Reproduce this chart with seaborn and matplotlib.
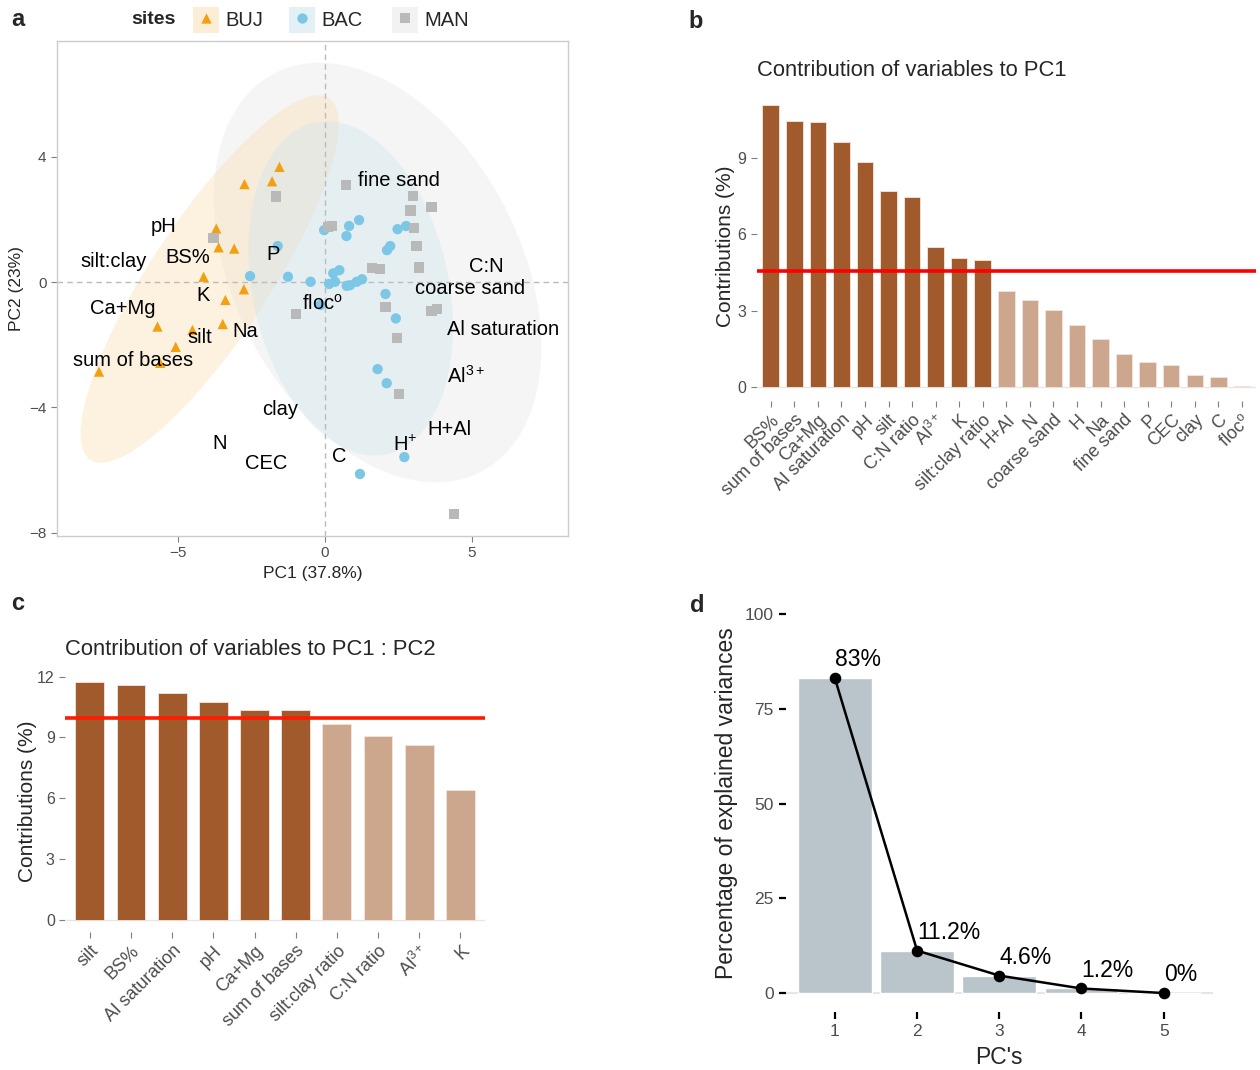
import numpy as np
import pandas as pd
import matplotlib
matplotlib.use("Agg")
import matplotlib.pyplot as plt
import seaborn as sns
from matplotlib.patches import Ellipse, Rectangle

sns.set_theme(style="white")
plt.rcParams['font.family'] = ['Liberation Sans', 'DejaVu Sans']
plt.rcParams['mathtext.fontset'] = 'custom'
plt.rcParams['mathtext.rm'] = 'Liberation Sans'
plt.rcParams['mathtext.it'] = 'Liberation Sans:italic'
plt.rcParams['mathtext.bf'] = 'Liberation Sans:bold'

# ---------------- PCA scores by site ----------------
buj_pc1 = [-1.55, -2.74, -1.80, -3.70, -3.62, -3.09, -4.13, -2.76, -3.39, -3.48,
           -5.70, -4.51, -5.08, -5.61, -7.69]
buj_pc2 = [3.68, 3.13, 3.22, 1.71, 1.11, 1.07, 0.17, -0.23, -0.57, -1.34,
           -1.42, -1.53, -2.07, -2.58, -2.86]

bac_pc1 = [-1.61, -2.55, -1.26, -0.49, -0.03, 0.82, 1.16, 0.73, 0.28, 0.49,
           0.14, 0.34, -0.15, 0.74, 0.85, 1.08, 1.26, 2.06, 2.11, 2.22,
           2.47, 2.76, 2.41, 1.79, 2.10, 2.70, 1.19]
bac_pc2 = [1.15, 0.19, 0.17, 0.01, 1.66, 1.79, 1.98, 1.47, 0.28, 0.38,
           -0.06, 0.01, -0.73, -0.12, -0.10, 0.01, 0.09, -0.38, 1.02, 1.15,
           1.69, 1.79, -1.16, -2.78, -3.23, -5.59, -6.13]

man_pc1 = [0.71, -1.66, -3.79, 3.00, 2.91, 3.62, 0.11, 0.23, 3.03, 3.11,
           3.21, 1.60, 1.88, -0.98, 2.06, 3.62, 3.81, 2.46, 2.52, 4.39]
man_pc2 = [3.09, 2.73, 1.41, 2.75, 2.29, 2.39, 1.77, 1.80, 1.73, 1.15,
           0.47, 0.46, 0.41, -1.01, -0.79, -0.92, -0.87, -1.79, -3.58, -7.41]

# variable names placed in the score space
var_names = ["fine sand", "pH", "silt:clay", "BS%", "P", "C:N", "coarse sand", "K",
             r"floc$^{\mathrm{o}}$", "Ca+Mg", "silt", "Na", "Al saturation", "sum of bases",
             r"Al$^{\mathrm{3+}}$", "clay", "H+Al", "N", r"H$^{+}$", "CEC", "C"]
var_pc1 = [2.52, -5.51, -7.18, -4.66, -1.77, 5.48, 4.93, -4.15, -0.10, -6.87,
           -4.25, -2.72, 6.05, -6.53, 4.80, -1.53, 4.25, -3.57, 2.72, -2.01, 0.48]
var_pc2 = [3.26, 1.79, 0.67, 0.77, 0.89, 0.51, -0.22, -0.42, -0.70, -0.83,
           -1.76, -1.57, -1.50, -2.49, -3.00, -4.06, -4.70, -5.14, -5.21, -5.78, -5.56]

# ---------------- contributions to PC1 ----------------
pc1_vars = ["BS%", "sum of bases", "Ca+Mg", "Al saturation", "pH", "silt", "C:N ratio",
            r"Al$^{3+}$", "K", "silt:clay ratio", "H+Al", "N", "coarse sand", "H", "Na",
            "fine sand", "P", "CEC", "clay", "C", r"floc$^{\mathrm{o}}$"]
pc1_contrib = [11.08, 10.44, 10.43, 9.64, 8.86, 7.72, 7.48, 5.50, 5.06, 4.97,
               3.79, 3.42, 3.01, 2.42, 1.87, 1.30, 0.98, 0.86, 0.47, 0.39, 0.02]
pc1_cutoff = 4.55

# ---------------- contributions to PC1 : PC2 ----------------
pc12_vars = ["silt", "BS%", "Al saturation", "pH", "Ca+Mg", "sum of bases",
             "silt:clay ratio", "C:N ratio", r"Al$^{3+}$", "K"]
pc12_contrib = [11.74, 11.61, 11.18, 10.75, 10.36, 10.34, 9.67, 9.07, 8.64, 6.39]
pc12_cutoff = 9.98

# ---------------- scree ----------------
pcs = ["1", "2", "3", "4", "5"]
explained = [83.0, 11.2, 4.6, 1.2, 0.0]

# ---------------- styling ----------------
site_colors = {"BUJ": "#F2A010", "BAC": "#7CC6E6", "MAN": "#B9B9B9"}
site_fill = {"BUJ": "#FBDDB0", "BAC": "#C9E5EF", "MAN": "#E6E6E6"}
site_alpha = {"BUJ": 0.38, "BAC": 0.35, "MAN": 0.38}
site_markers = {"BUJ": "^", "BAC": "o", "MAN": "s"}
dark_bar = "#A05A2C"
light_bar = "#CCA68D"
tick_grey = "#4D4D4D"

W, H = 1260, 1070
fig = plt.figure(figsize=(W / 100, H / 100), dpi=100)


def frac(l, t, r, b):
    return [l / W, 1 - b / H, (r - l) / W, (b - t) / H]


def conf_ellipse(ax, x, y, face, alpha, level=0.95):
    pts = np.column_stack([x, y])
    n = len(pts)
    mu = pts.mean(axis=0)
    cov = np.cov(pts.T)
    vals, vecs = np.linalg.eigh(cov)
    # F(2, n-1) quantile has a closed form
    m = n - 1
    qf = (m / 2) * ((1 - level) ** (-2 / m) - 1)
    r = np.sqrt(2 * qf)
    w, h = 2 * r * np.sqrt(vals[1]), 2 * r * np.sqrt(vals[0])
    ang = np.degrees(np.arctan2(vecs[1, 1], vecs[0, 1]))
    ax.add_patch(Ellipse(mu, w, h, angle=ang, facecolor=face, alpha=alpha,
                         edgecolor="none", zorder=1))


# ================= panel a : biplot =================
axa = fig.add_axes(frac(57, 41, 568, 536))
scores = pd.DataFrame({
    "PC1": buj_pc1 + bac_pc1 + man_pc1,
    "PC2": buj_pc2 + bac_pc2 + man_pc2,
    "site": ["BUJ"] * len(buj_pc1) + ["BAC"] * len(bac_pc1) + ["MAN"] * len(man_pc1),
})
conf_ellipse(axa, man_pc1, man_pc2, site_fill["MAN"], site_alpha["MAN"])
conf_ellipse(axa, buj_pc1, buj_pc2, site_fill["BUJ"], site_alpha["BUJ"])
conf_ellipse(axa, bac_pc1, bac_pc2, site_fill["BAC"], site_alpha["BAC"])
axa.axhline(0, color="#BBBBBB", ls=(0, (4, 3)), lw=1, zorder=2)
axa.axvline(0, color="#BBBBBB", ls=(0, (4, 3)), lw=1, zorder=2)
sns.scatterplot(data=scores, x="PC1", y="PC2", hue="site", style="site",
                palette=site_colors, markers=site_markers, s=55, linewidth=0,
                legend=False, ax=axa, zorder=3)
for nm, vx, vy in zip(var_names, var_pc1, var_pc2):
    axa.text(vx, vy, nm, ha="center", va="center", fontsize=14.5, color="black", zorder=4)
axa.set_xlim(-9.12, 8.27)
axa.set_ylim(-8.11, 7.70)
axa.set_xticks([-5, 0, 5])
axa.set_xticklabels(["\u22125", "0", "5"])
axa.set_yticks([-8, -4, 0, 4])
axa.set_yticklabels(["\u22128", "\u22124", "0", "4"])
axa.set_xlabel("PC1 (37.8%)", fontsize=12.5, labelpad=4)
axa.set_ylabel("PC2 (23%)", fontsize=12.5, labelpad=4)
axa.tick_params(axis="both", labelsize=11, colors="#7F7F7F", length=4, width=0.8,
                left=True, bottom=True)
for t in axa.get_xticklabels() + axa.get_yticklabels():
    t.set_color(tick_grey)
for sp in axa.spines.values():
    sp.set_color("#CCCCCC")
    sp.set_linewidth(1)

# legend strip
axl = fig.add_axes([0, 1 - 42 / H, 1, 42 / H])
axl.set_xlim(0, W)
axl.set_ylim(42, 0)
axl.axis("off")
axl.text(131, 20, "sites", fontsize=14, fontweight="bold", va="center", ha="left")
for site, kx, tx in [("BUJ", 193, 225), ("BAC", 289, 321), ("MAN", 392, 424)]:
    axl.add_patch(Rectangle((kx, 7), 26, 26, facecolor=site_fill[site], alpha=0.5,
                            edgecolor="none"))
    axl.scatter([kx + 13], [18], marker=site_markers[site], s=55,
                color=site_colors[site], linewidth=0)
    axl.text(tx, 21, site, fontsize=14.5, va="center", ha="left")


# ================= contribution bar helper =================
def contrib_bars(ax, names, values, cutoff, title, label_size, ylabelpad):
    df = pd.DataFrame({"var": names, "contrib": values})
    df["grp"] = np.where(df["contrib"] > cutoff, "hi", "lo")
    sns.barplot(data=df, x="var", y="contrib", hue="grp",
                palette={"hi": dark_bar, "lo": light_bar}, order=names,
                dodge=False, width=0.7, legend=False, ax=ax, zorder=2,
                saturation=1, edgecolor="#F3E6DD", linewidth=0.6)
    n = len(names)
    ax.set_xlim(-0.6, n - 0.4)
    ax.set_ylim(-max(values) * 0.05, max(values) * 1.05)
    ax.axhline(0, color="#E6E6E6", lw=1, zorder=1)
    ax.axhline(cutoff, color="#FF1A00" if n < 15 else "#FF0000", lw=2.6, zorder=3)
    for sp in ax.spines.values():
        sp.set_visible(False)
    ax.set_xlabel("")
    ax.set_ylabel("Contributions (%)", fontsize=15, labelpad=ylabelpad)
    ax.set_title(title, fontsize=15.8, loc="left", pad=11)
    ax.tick_params(axis="both", colors="#7F7F7F", length=4, width=0.8,
                   left=True, bottom=True, labelsize=11.5)
    ax.tick_params(axis="x", labelsize=label_size)
    for t in ax.get_xticklabels():
        t.set_rotation(45)
        t.set_ha("right")
        t.set_rotation_mode("anchor")
        t.set_color(tick_grey)
    for t in ax.get_yticklabels():
        t.set_color(tick_grey)


# ================= panel b =================
axb = fig.add_axes(frac(756.6, 91, 1256, 401))
contrib_bars(axb, pc1_vars, pc1_contrib, pc1_cutoff,
             "Contribution of variables to PC1", 13, 2)
axb.set_yticks([0, 3, 6, 9])

# ================= panel c =================
axc = fig.add_axes(frac(65.2, 670, 485, 932))
contrib_bars(axc, pc12_vars, pc12_contrib, pc12_cutoff,
             "Contribution of variables to PC1 : PC2", 13, 0)
axc.set_yticks([0, 3, 6, 9, 12])

# ================= panel d : scree =================
axd = fig.add_axes(frac(785.6, 595, 1213, 1012))
scree = pd.DataFrame({"pc": pcs, "var": explained})
sns.barplot(data=scree, x="pc", y="var", color="#BAC4CB", width=0.9,
            saturation=1, ax=axd, zorder=2)
sns.pointplot(data=scree, x="pc", y="var", color="black", markers="o",
              markersize=7, linewidth=1.8, ax=axd, zorder=4)
for i, v in enumerate(explained):
    axd.annotate(f"{v:g}%", (i, v), xytext=(0, 5), textcoords="offset points",
                 ha="left", va="bottom", fontsize=16.5, color="black", zorder=5)
axd.set_xlim(-0.6, 4.6)
axd.set_ylim(-5, 105)
axd.set_yticks([0, 25, 50, 75, 100])
axd.axhline(0, color="#E6E6E6", lw=1.5, zorder=1)
for sp in axd.spines.values():
    sp.set_visible(False)
axd.set_xlabel("PC's", fontsize=16.5, labelpad=5)
axd.set_ylabel("Percentage of explained variances", fontsize=16.5, labelpad=5)
axd.tick_params(axis="both", colors="black", length=5, width=1.6,
                left=True, bottom=True, labelsize=12.5)
for t in axd.get_xticklabels() + axd.get_yticklabels():
    t.set_color(tick_grey)

# panel letters
for letter, px, py in [("a", 18, 20), ("b", 696, 22), ("c", 18, 603), ("d", 697, 606)]:
    fig.text(px / W, 1 - py / H, letter, fontsize=17, fontweight="bold",
             ha="center", va="center")

fig.savefig("out.png", dpi=100)
